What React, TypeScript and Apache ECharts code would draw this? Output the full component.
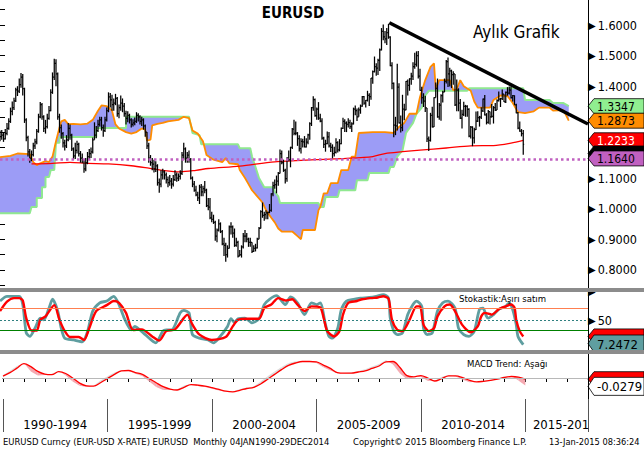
import React, { useEffect, useRef } from 'react';
import * as echarts from 'echarts';

const FONT = '"DejaVu Sans Condensed", "DejaVu Sans", sans-serif';

// Monthly EURUSD bars, Jan 1990 .. Dec 2014 (index 0..299)
const priceClose = [
  1.235, 1.240, 1.228, 1.246, 1.262, 1.285, 1.318, 1.330, 1.352, 1.388, 1.384, 1.405,
  1.430, 1.392, 1.290, 1.232, 1.185, 1.165, 1.176, 1.205, 1.218, 1.252, 1.300, 1.340,
  1.300, 1.262, 1.268, 1.295, 1.320, 1.380, 1.430, 1.475, 1.440, 1.300, 1.265, 1.245,
  1.215, 1.205, 1.225, 1.262, 1.240, 1.195, 1.172, 1.190, 1.210, 1.180, 1.165, 1.160,
  1.130, 1.150, 1.170, 1.180, 1.185, 1.225, 1.240, 1.255, 1.275, 1.290, 1.265, 1.255,
  1.290, 1.320, 1.365, 1.355, 1.340, 1.345, 1.360, 1.310, 1.330, 1.345, 1.335, 1.310,
  1.295, 1.305, 1.290, 1.275, 1.280, 1.285, 1.305, 1.300, 1.285, 1.290, 1.270, 1.250,
  1.205, 1.165, 1.150, 1.145, 1.130, 1.140, 1.085, 1.080, 1.110, 1.120, 1.110, 1.095,
  1.085, 1.090, 1.080, 1.095, 1.110, 1.100, 1.105, 1.115, 1.175, 1.195, 1.165, 1.175,
  1.160, 1.100, 1.080, 1.060, 1.045, 1.035, 1.070, 1.055, 1.065, 1.060, 1.010, 1.005,
  0.970, 0.965, 0.955, 0.910, 0.930, 0.950, 0.925, 0.885, 0.880, 0.850, 0.870, 0.940,
  0.940, 0.920, 0.880, 0.890, 0.845, 0.850, 0.875, 0.910, 0.910, 0.900, 0.890, 0.890,
  0.860, 0.870, 0.872, 0.900, 0.935, 0.990, 0.978, 0.980, 0.986, 0.988, 0.994, 1.048,
  1.075, 1.078, 1.090, 1.115, 1.180, 1.150, 1.125, 1.098, 1.165, 1.160, 1.200, 1.260,
  1.246, 1.247, 1.229, 1.196, 1.220, 1.218, 1.202, 1.217, 1.241, 1.278, 1.330, 1.356,
  1.304, 1.325, 1.296, 1.286, 1.230, 1.210, 1.212, 1.234, 1.205, 1.200, 1.180, 1.184,
  1.216, 1.192, 1.212, 1.262, 1.285, 1.279, 1.275, 1.281, 1.268, 1.277, 1.325, 1.320,
  1.300, 1.323, 1.335, 1.366, 1.345, 1.354, 1.370, 1.366, 1.426, 1.448, 1.464, 1.459,
  1.484, 1.519, 1.579, 1.561, 1.555, 1.575, 1.560, 1.467, 1.409, 1.273, 1.270, 1.397,
  1.280, 1.265, 1.325, 1.323, 1.416, 1.403, 1.424, 1.433, 1.464, 1.471, 1.500, 1.433,
  1.386, 1.363, 1.351, 1.329, 1.228, 1.223, 1.305, 1.267, 1.363, 1.393, 1.300, 1.338,
  1.369, 1.381, 1.416, 1.480, 1.440, 1.450, 1.438, 1.440, 1.339, 1.387, 1.345, 1.296,
  1.308, 1.334, 1.334, 1.324, 1.237, 1.266, 1.231, 1.258, 1.286, 1.297, 1.299, 1.319,
  1.358, 1.306, 1.282, 1.317, 1.300, 1.301, 1.330, 1.322, 1.353, 1.358, 1.359, 1.374,
  1.349, 1.380, 1.377, 1.387, 1.363, 1.369, 1.339, 1.313, 1.263, 1.253, 1.245, 1.210,
];
const priceHigh = [
  1.255, 1.257, 1.250, 1.260, 1.280, 1.295, 1.330, 1.350, 1.362, 1.395, 1.400, 1.425,
  1.443, 1.440, 1.395, 1.295, 1.238, 1.195, 1.190, 1.215, 1.228, 1.260, 1.310, 1.348,
  1.345, 1.305, 1.290, 1.310, 1.335, 1.390, 1.445, 1.490, 1.488, 1.445, 1.310, 1.275,
  1.250, 1.225, 1.240, 1.280, 1.275, 1.245, 1.200, 1.215, 1.222, 1.215, 1.188, 1.180,
  1.160, 1.165, 1.185, 1.195, 1.200, 1.232, 1.282, 1.270, 1.290, 1.300, 1.300, 1.275,
  1.300, 1.330, 1.380, 1.378, 1.372, 1.360, 1.375, 1.365, 1.340, 1.370, 1.360, 1.345,
  1.320, 1.318, 1.310, 1.295, 1.292, 1.298, 1.315, 1.312, 1.305, 1.300, 1.295, 1.275,
  1.250, 1.215, 1.175, 1.165, 1.160, 1.155, 1.145, 1.098, 1.125, 1.130, 1.125, 1.118,
  1.105, 1.110, 1.100, 1.110, 1.125, 1.118, 1.115, 1.125, 1.185, 1.215, 1.200, 1.185,
  1.190, 1.165, 1.105, 1.090, 1.075, 1.055, 1.078, 1.080, 1.075, 1.090, 1.065, 1.035,
  1.035, 0.990, 0.980, 0.960, 0.935, 0.965, 0.955, 0.930, 0.905, 0.888, 0.880, 0.945,
  0.955, 0.945, 0.935, 0.905, 0.895, 0.865, 0.880, 0.920, 0.930, 0.920, 0.905, 0.905,
  0.890, 0.880, 0.885, 0.905, 0.940, 0.995, 1.020, 0.990, 0.995, 0.990, 1.015, 1.050,
  1.088, 1.095, 1.108, 1.120, 1.193, 1.190, 1.160, 1.130, 1.168, 1.190, 1.202, 1.263,
  1.290, 1.285, 1.250, 1.240, 1.230, 1.228, 1.237, 1.230, 1.245, 1.282, 1.332, 1.367,
  1.360, 1.330, 1.348, 1.310, 1.295, 1.235, 1.225, 1.252, 1.250, 1.215, 1.210, 1.202,
  1.230, 1.220, 1.227, 1.265, 1.297, 1.292, 1.285, 1.295, 1.290, 1.282, 1.330, 1.337,
  1.327, 1.330, 1.340, 1.368, 1.368, 1.355, 1.385, 1.377, 1.427, 1.451, 1.497, 1.475,
  1.490, 1.523, 1.590, 1.602, 1.580, 1.590, 1.604, 1.563, 1.478, 1.412, 1.300, 1.473,
  1.410, 1.304, 1.372, 1.343, 1.417, 1.422, 1.426, 1.444, 1.478, 1.509, 1.514, 1.515,
  1.457, 1.398, 1.377, 1.369, 1.329, 1.236, 1.313, 1.333, 1.364, 1.412, 1.425, 1.345,
  1.374, 1.385, 1.425, 1.486, 1.494, 1.460, 1.454, 1.449, 1.438, 1.422, 1.393, 1.358,
  1.323, 1.349, 1.339, 1.338, 1.328, 1.270, 1.269, 1.264, 1.317, 1.318, 1.303, 1.331,
  1.360, 1.371, 1.312, 1.322, 1.311, 1.342, 1.335, 1.345, 1.357, 1.383, 1.362, 1.389,
  1.374, 1.383, 1.397, 1.399, 1.399, 1.371, 1.370, 1.343, 1.316, 1.285, 1.260, 1.257,
];
const priceLow = [
  1.220, 1.225, 1.218, 1.226, 1.240, 1.258, 1.280, 1.305, 1.322, 1.348, 1.368, 1.378,
  1.395, 1.370, 1.280, 1.220, 1.170, 1.150, 1.155, 1.170, 1.195, 1.210, 1.248, 1.295,
  1.290, 1.250, 1.245, 1.262, 1.290, 1.318, 1.375, 1.420, 1.400, 1.290, 1.248, 1.228,
  1.200, 1.190, 1.198, 1.220, 1.225, 1.188, 1.160, 1.162, 1.180, 1.170, 1.150, 1.148,
  1.117, 1.122, 1.145, 1.160, 1.165, 1.180, 1.225, 1.230, 1.250, 1.268, 1.255, 1.235,
  1.250, 1.285, 1.315, 1.330, 1.320, 1.320, 1.338, 1.300, 1.295, 1.320, 1.315, 1.300,
  1.275, 1.282, 1.278, 1.265, 1.268, 1.272, 1.280, 1.285, 1.275, 1.270, 1.258, 1.235,
  1.195, 1.150, 1.140, 1.125, 1.118, 1.120, 1.075, 1.052, 1.070, 1.095, 1.095, 1.082,
  1.070, 1.075, 1.065, 1.072, 1.090, 1.088, 1.090, 1.095, 1.110, 1.160, 1.150, 1.150,
  1.150, 1.095, 1.070, 1.055, 1.040, 1.025, 1.015, 1.040, 1.040, 1.050, 1.005, 0.995,
  0.965, 0.955, 0.950, 0.895, 0.890, 0.925, 0.920, 0.880, 0.845, 0.826, 0.840, 0.870,
  0.915, 0.905, 0.875, 0.875, 0.840, 0.845, 0.840, 0.870, 0.890, 0.890, 0.875, 0.875,
  0.855, 0.858, 0.860, 0.870, 0.900, 0.935, 0.970, 0.960, 0.965, 0.965, 0.985, 0.990,
  1.040, 1.065, 1.050, 1.075, 1.115, 1.145, 1.120, 1.082, 1.088, 1.155, 1.135, 1.195,
  1.240, 1.240, 1.205, 1.187, 1.180, 1.200, 1.200, 1.200, 1.210, 1.225, 1.270, 1.320,
  1.300, 1.290, 1.290, 1.282, 1.225, 1.198, 1.186, 1.210, 1.200, 1.185, 1.164, 1.170,
  1.180, 1.183, 1.187, 1.210, 1.260, 1.250, 1.250, 1.265, 1.260, 1.250, 1.275, 1.305,
  1.286, 1.300, 1.310, 1.333, 1.339, 1.330, 1.350, 1.335, 1.356, 1.408, 1.445, 1.434,
  1.437, 1.450, 1.517, 1.550, 1.540, 1.535, 1.555, 1.465, 1.390, 1.233, 1.240, 1.255,
  1.278, 1.249, 1.253, 1.289, 1.321, 1.370, 1.385, 1.405, 1.420, 1.457, 1.464, 1.425,
  1.385, 1.343, 1.332, 1.316, 1.218, 1.188, 1.219, 1.265, 1.269, 1.369, 1.297, 1.290,
  1.287, 1.347, 1.382, 1.409, 1.397, 1.399, 1.394, 1.405, 1.335, 1.318, 1.318, 1.293,
  1.262, 1.303, 1.300, 1.300, 1.233, 1.229, 1.204, 1.213, 1.257, 1.283, 1.268, 1.293,
  1.316, 1.304, 1.275, 1.277, 1.275, 1.298, 1.278, 1.319, 1.322, 1.350, 1.332, 1.355,
  1.348, 1.345, 1.369, 1.373, 1.360, 1.350, 1.339, 1.312, 1.259, 1.251, 1.236, 1.176,
];

// Ichimoku cloud spans [monthIndex, value] (shifted forward, up to early 2017)
const spanA = [
  [0, 1.168], [6, 1.172], [10, 1.18], [17, 1.178], [18, 1.165], [19, 1.152], [21, 1.142], [23, 1.148],
  [26, 1.155], [28, 1.152], [30, 1.17], [32, 1.22], [34, 1.265], [35, 1.285], [37, 1.29], [39, 1.276],
  [42, 1.277], [46, 1.275], [50, 1.278], [53, 1.29], [56, 1.32], [58, 1.337], [61, 1.335], [64, 1.32],
  [66, 1.275], [68, 1.262], [72, 1.25], [75, 1.245], [78, 1.25], [81, 1.262], [83, 1.258], [84, 1.222],
  [86, 1.225], [87, 1.272], [90, 1.277], [93, 1.28], [96, 1.285], [100, 1.288], [102, 1.29], [105, 1.30],
  [108, 1.296], [110, 1.255], [113, 1.245], [116, 1.22], [118, 1.175], [122, 1.16], [127, 1.152],
  [129, 1.165], [131, 1.148], [136, 1.145], [137, 1.126], [140, 1.10], [142, 1.08], [144, 1.06],
  [147, 1.04], [150, 1.02], [152, 0.995], [155, 0.97], [157, 0.955], [159, 0.935], [161, 0.925],
  [167, 0.925], [170, 0.91], [172, 0.90], [173, 0.93], [180, 0.93], [182, 0.995], [183, 1.005],
  [185, 1.05], [187, 1.05], [189, 1.083], [193, 1.083], [195, 1.126], [199, 1.126], [201, 1.17],
  [203, 1.17], [205, 1.247], [213, 1.25], [220, 1.25], [225, 1.247], [228, 1.267], [231, 1.28],
  [234, 1.31], [238, 1.31], [240, 1.365], [243, 1.42], [246, 1.463], [248, 1.475], [249, 1.39],
  [251, 1.42], [257, 1.42], [259, 1.387], [261, 1.39], [263, 1.42], [265, 1.40], [269, 1.385],
  [271, 1.35], [273, 1.33], [280, 1.33], [282, 1.355], [286, 1.37], [290, 1.368], [293, 1.345],
  [296, 1.315], [300, 1.312], [305, 1.318], [308, 1.33], [314, 1.33], [316, 1.32], [322, 1.322],
  [325, 1.2873],
];
const spanB = [
  [0, 0.985], [17, 0.985], [18, 1.005], [21, 1.005], [21, 1.035], [24, 1.035], [24, 1.07], [26, 1.07],
  [26, 1.103], [28, 1.103], [29, 1.126], [31, 1.126], [32, 1.215], [34, 1.215], [34, 1.234], [55, 1.234],
  [55, 1.263], [72, 1.263], [72, 1.30], [108, 1.30], [110, 1.247], [114, 1.24], [115, 1.21], [136, 1.21],
  [137, 1.197], [143, 1.197], [144, 1.17], [146, 1.136], [148, 1.10], [151, 1.07], [156, 1.07],
  [157, 1.055], [159, 1.04], [160, 1.018], [182, 1.018], [183, 1.005], [185, 1.005], [186, 1.038],
  [193, 1.038], [194, 1.06], [203, 1.06], [204, 1.093], [210, 1.093], [211, 1.116], [222, 1.116],
  [223, 1.136], [225, 1.136], [227, 1.17], [230, 1.19], [232, 1.247], [236, 1.28], [238, 1.31],
  [241, 1.33], [243, 1.37], [245, 1.385], [267, 1.385], [268, 1.393], [299, 1.393], [300, 1.355],
  [314, 1.355], [316, 1.345], [322, 1.345], [325, 1.3347],
];
// Long moving average [monthIndex, value]
const maLine = [
  [18, 1.146], [30, 1.148], [40, 1.151], [50, 1.148], [62, 1.146], [75, 1.14], [85, 1.132], [94, 1.124],
  [103, 1.12], [112, 1.125], [119, 1.131], [137, 1.139], [157, 1.153], [180, 1.16], [198, 1.164],
  [213, 1.17], [220, 1.18], [230, 1.186], [240, 1.191], [255, 1.198], [269, 1.205], [282, 1.206],
  [292, 1.214], [299, 1.223],
];
const supportLevel = 1.164;
const trendLine = [[222.5, 1.6075], [336, 1.2765]];

// Stochastic [monthIndex, value]
const stochK = [
  [0, 83], [4, 91], [11, 91], [13, 77], [15, 29], [17, 23], [20, 37], [23, 54], [25, 51], [28, 71], [30, 86],
  [33, 66], [35, 37], [37, 20], [42, 17], [47, 14], [50, 31], [53, 66], [57, 80], [61, 83], [65, 91], [68, 77],
  [71, 54], [75, 34], [77, 40], [80, 34], [83, 26], [89, 12], [93, 32], [95, 34], [98, 34], [103, 63], [105, 67],
  [108, 63], [110, 26], [114, 20], [119, 17], [122, 12], [125, 20], [130, 40], [132, 53], [134, 47], [136, 53],
  [140, 54], [144, 46], [148, 53], [151, 77], [154, 86], [158, 92], [163, 77], [166, 90], [170, 80], [174, 60],
  [178, 80], [181, 77], [183, 80], [186, 43], [188, 23], [190, 20], [193, 37], [195, 68], [198, 83], [202, 86],
  [206, 88], [211, 89], [215, 91], [219, 94], [222, 88], [223, 54], [225, 32], [227, 26], [230, 29], [233, 60],
  [236, 77], [238, 83], [241, 74], [242, 37], [244, 26], [247, 29], [250, 66], [253, 80], [256, 83], [260, 71],
  [262, 37], [265, 26], [268, 23], [271, 32], [274, 69], [276, 71], [278, 57], [279, 54], [282, 60], [285, 69],
  [289, 74], [291, 80], [293, 68], [295, 43], [296, 23], [299, 9],
];
const stochD = [
  [0, 66], [4, 82], [8, 88], [11, 88], [13, 84], [15, 54], [18, 33], [21, 33], [23, 51], [26, 57], [31, 76],
  [34, 51], [37, 32], [40, 22], [45, 22], [48, 17], [51, 37], [55, 66], [61, 76], [65, 83], [68, 80], [72, 63],
  [76, 34], [81, 35], [87, 23], [91, 16], [95, 32], [100, 35], [105, 54], [107, 60], [110, 43], [114, 26],
  [121, 17], [129, 22], [133, 40], [136, 51], [142, 53], [148, 53], [151, 71], [155, 77], [159, 88], [163, 84],
  [167, 86], [170, 77], [174, 66], [178, 74], [183, 72], [185, 54], [187, 32], [191, 23], [194, 32], [196, 60],
  [199, 80], [204, 83], [207, 86], [212, 88], [216, 89], [219, 91], [222, 87], [224, 51], [227, 34], [230, 32],
  [234, 51], [238, 74], [240, 74], [242, 43], [245, 32], [248, 37], [250, 57], [254, 74], [257, 77], [260, 66],
  [264, 43], [269, 30], [273, 40], [275, 57], [277, 63], [281, 60], [285, 69], [289, 74], [292, 77], [294, 72],
  [295, 51], [297, 32], [299, 23],
];
const stochUpper = 70;
const stochMid = 50;
const stochLower = 33;

// MACD, one value every 4 months starting Jan 1990
const macdStep = 4;
const macdSignal = [
  0.006, 0.018, 0.033, 0.048, 0.038, 0.022, 0.013, 0.011, 0.021, 0.015,
  0.000, -0.017, -0.026, -0.027, -0.016, -0.002, 0.012, 0.024, 0.025, 0.018,
  0.012, -0.002, -0.016, -0.029, -0.037, -0.040, -0.031, -0.022, -0.024, -0.027,
  -0.032, -0.038, -0.044, -0.046, -0.041, -0.035, -0.031, -0.020, -0.004, 0.012,
  0.028, 0.042, 0.050, 0.055, 0.055, 0.054, 0.043, 0.032, 0.018, 0.016,
  0.016, 0.020, 0.024, 0.032, 0.040, 0.054, 0.055, 0.035, 0.008, 0.004,
  0.008, 0.000, -0.010, -0.002, 0.007, 0.007, 0.001, -0.008, -0.013, -0.011,
  -0.008, -0.004, 0.002, 0.005, 0.003, -0.004,
];
const macdLine = [
  0.010, 0.024, 0.040, 0.050, 0.022, 0.008, 0.010, 0.014, 0.024, 0.008,
  -0.012, -0.026, -0.030, -0.026, -0.008, 0.006, 0.018, 0.027, 0.024, 0.014,
  0.007, -0.012, -0.030, -0.040, -0.040, -0.038, -0.025, -0.020, -0.027, -0.030,
  -0.036, -0.042, -0.046, -0.045, -0.037, -0.032, -0.028, -0.012, 0.006, 0.022,
  0.037, 0.050, 0.056, 0.057, 0.054, 0.050, 0.036, 0.025, 0.016, 0.017,
  0.018, 0.023, 0.029, 0.038, 0.047, 0.060, 0.045, 0.015, -0.004, 0.006,
  0.004, -0.010, -0.008, 0.004, 0.010, 0.005, -0.006, -0.014, -0.012, -0.009,
  -0.006, 0.000, 0.005, 0.007, -0.008, -0.025,
];

const xGroupLabels = ['1990-1994', '1995-1999', '2000-2004', '2005-2009', '2010-2014', '2015-201'];
// price-axis tick labels that sit behind the value boxes on the right (not shown in the original)
const hiddenPriceTicks = [1.2, 1.3];

const mainLabels = [
  { value: 1.3347, text: '1.3347', fill: '#90ee90', color: '#000' },
  { value: 1.2873, text: '1.2873', fill: '#ff8c00', color: '#000' },
  { value: 1.2233, text: '1.2233', fill: '#ff0000', color: '#fff' },
  { value: 1.18, text: '', fill: '#000000', color: '#fff' },
  { value: 1.164, text: '1.1640', fill: '#c060c0', color: '#000' },
];
const stochLabels = [
  { value: 23, text: '', fill: '#ff0000', color: '#fff' },
  { value: 7.2472, text: '7.2472', fill: '#5f9ea0', color: '#000' },
];
const macdLabels = [
  { value: -0.004, text: '', fill: '#ff0000', color: '#fff' },
  { value: -0.0279, text: '-0.0279', fill: '#ffffff', color: '#000' },
];

const PINK = '#f5a9b1';
const LGRAY = '#dddddd';

export default function App() {
  const ref = useRef<HTMLDivElement>(null);
  useEffect(() => {
    const chart = echarts.init(ref.current as HTMLDivElement, undefined, { renderer: 'svg' });

    const priceData = priceClose.map((c, i) => {
      const o = i === 0 ? c : priceClose[i - 1];
      return [i, o, c, Math.min(priceLow[i], o, c), Math.max(priceHigh[i], o, c)];
    });

    const xBase = { type: 'value', min: 0, max: 336, show: false };
    const axisRich = {
      t: { fontSize: 10, color: '#000', fontFamily: 'DejaVu Sans', padding: [0, 2, 0, 0] },
      v: { fontSize: 12.5, color: '#000', fontFamily: FONT },
    };

    const option: any = {
      animation: false,
      backgroundColor: '#fff',
      textStyle: { fontFamily: FONT },
      grid: [
        { left: 0, right: 56, top: 9.7, height: 275.4 },
        { left: 0, right: 56, top: 291, height: 59 },
        { left: 0, right: 56, top: 354, height: 45 },
      ],
      xAxis: [
        { ...xBase, gridIndex: 0 },
        { ...xBase, gridIndex: 1 },
        {
          type: 'value', gridIndex: 2, min: 0, max: 336, interval: 12, position: 'bottom',
          axisLine: { show: true, lineStyle: { color: '#000', width: 1 } },
          axisTick: { show: true, length: 4, lineStyle: { color: '#000' } },
          axisLabel: { show: false }, splitLine: { show: false },
        },
        {
          type: 'value', gridIndex: 2, min: 0, max: 336, interval: 60, position: 'bottom',
          axisLine: { show: false },
          axisTick: { show: true, length: 33, lineStyle: { color: '#555', width: 1 } },
          axisLabel: { show: false }, splitLine: { show: false },
        },
        {
          type: 'value', gridIndex: 2, min: 0, max: 336, interval: 30, position: 'bottom',
          axisLine: { show: false }, axisTick: { show: false }, splitLine: { show: false },
          axisLabel: {
            show: true, margin: 19, fontSize: 13, color: '#000', fontFamily: FONT,
            formatter: (v: number) => {
              const k = Math.round(v / 30);
              if (k % 2 !== 1) return '';
              const idx = (k - 1) / 2;
              if (idx === xGroupLabels.length - 1) return '{s|' + xGroupLabels[idx] + '}';
              return xGroupLabels[idx] || '';
            },
            rich: { s: { fontSize: 13, color: '#000', fontFamily: FONT, padding: [0, 33, 0, 0] } },
          },
        },
      ],
      yAxis: [
        {
          type: 'value', gridIndex: 0, position: 'right', min: 0.75, max: 1.65, interval: 0.05,
          axisLine: { show: false },
          axisTick: { show: true, length: 5, lineStyle: { color: '#000' } },
          splitLine: { show: false },
          axisLabel: {
            show: true, margin: 0,
            formatter: (v: number) => {
              if (Math.round(v * 20) % 2 !== 0) return '';
              if (hiddenPriceTicks.some((h) => Math.abs(h - v) < 1e-6)) return '';
              return '{t|▶}{v|' + v.toFixed(4) + '}';
            },
            rich: axisRich,
          },
        },
        {
          type: 'value', gridIndex: 1, position: 'right', min: 0, max: 100, interval: 50,
          axisLine: { show: false }, axisTick: { show: false }, splitLine: { show: false },
          axisLabel: {
            show: true, margin: 0,
            formatter: (v: number) => (v === 50 ? '{t|▶}{v|50}' : v === 100 ? '{t|▶}' : ''),
            rich: axisRich,
          },
        },
        {
          type: 'value', gridIndex: 2, position: 'right', min: -0.07, max: 0.08,
          axisLine: { show: false }, axisTick: { show: false }, axisLabel: { show: false }, splitLine: { show: false },
        },
      ],
      series: [
        {
          type: 'custom', xAxisIndex: 0, yAxisIndex: 0, z: 1, silent: true,
          data: [[0, 1]],
          renderItem: (_p: any, api: any) => {
            const pts = spanA.map((p) => api.coord(p)).concat(spanB.slice().reverse().map((p) => api.coord(p)));
            return { type: 'polygon', shape: { points: pts }, style: { fill: '#9c9cf6' } };
          },
        },
        {
          type: 'line', xAxisIndex: 0, yAxisIndex: 0, z: 2, data: spanB, showSymbol: false, silent: true,
          lineStyle: { color: '#90e890', width: 2 },
        },
        {
          type: 'line', xAxisIndex: 0, yAxisIndex: 0, z: 2, data: spanA, showSymbol: false, silent: true,
          lineStyle: { color: '#ff8c00', width: 1.8 },
        },
        {
          type: 'line', xAxisIndex: 0, yAxisIndex: 0, z: 3, data: maLine, showSymbol: false, silent: true,
          smooth: 0.3, lineStyle: { color: '#ff0000', width: 1.3 },
          markLine: {
            silent: true, symbol: 'none', label: { show: false },
            lineStyle: { color: '#c060c0', width: 2.5, type: [2.5, 3] },
            data: [{ yAxis: supportLevel }],
          },
        },
        {
          type: 'custom', xAxisIndex: 0, yAxisIndex: 0, z: 4, silent: true,
          data: priceData, encode: { x: 0, y: [1, 2, 3, 4] },
          renderItem: (_p: any, api: any) => {
            const x = api.value(0);
            const pO = api.coord([x, api.value(1)]);
            const pC = api.coord([x, api.value(2)]);
            const pL = api.coord([x, api.value(3)]);
            const pH = api.coord([x, api.value(4)]);
            const st = { stroke: '#000', lineWidth: 1.25 };
            return {
              type: 'group',
              children: [
                { type: 'line', shape: { x1: pL[0], y1: pL[1], x2: pH[0], y2: pH[1] }, style: st },
                { type: 'line', shape: { x1: pO[0] - 0.9, y1: pO[1], x2: pO[0], y2: pO[1] }, style: st },
                { type: 'line', shape: { x1: pC[0], y1: pC[1], x2: pC[0] + 0.9, y2: pC[1] }, style: st },
              ],
            };
          },
        },
        {
          type: 'line', xAxisIndex: 0, yAxisIndex: 0, z: 5, data: trendLine, showSymbol: false, silent: true,
          lineStyle: { color: '#000', width: 3.5 },
        },
        // stochastic
        {
          type: 'line', xAxisIndex: 1, yAxisIndex: 1, z: 3, data: stochK, showSymbol: false, silent: true,
          smooth: 0.25, lineStyle: { color: '#5f9ea0', width: 2.8 },
          markLine: {
            silent: true, symbol: 'none', label: { show: false },
            data: [
              { yAxis: stochUpper, lineStyle: { color: '#ff7f50', width: 1, type: 'solid' } },
              { yAxis: stochMid, lineStyle: { color: '#2f8080', width: 1, type: [2, 2] } },
              { yAxis: stochLower, lineStyle: { color: '#008000', width: 1.2, type: 'solid' } },
            ],
          },
        },
        {
          type: 'line', xAxisIndex: 1, yAxisIndex: 1, z: 4, data: stochD, showSymbol: false, silent: true,
          smooth: 0.25, lineStyle: { color: '#ff0000', width: 2.4 },
        },
        // MACD
        {
          type: 'custom', xAxisIndex: 2, yAxisIndex: 2, z: 2, silent: true,
          data: macdSignal.slice(0, -1).map((v, i) => [i * macdStep, v]),
          encode: { x: 0, y: 1 },
          renderItem: (p: any, api: any) => {
            const i = p.dataIndex;
            const m0 = i * macdStep, m1 = (i + 1) * macdStep;
            const s0 = macdSignal[i], s1 = macdSignal[i + 1];
            const l0 = macdLine[i], l1 = macdLine[i + 1];
            const d0 = l0 - s0, d1 = l1 - s1;
            const col = (d: number) => (d < 0 ? PINK : LGRAY);
            const P = (m: number, v: number) => api.coord([m, v]);
            if (d0 * d1 < 0) {
              const t = d0 / (d0 - d1);
              const mc = m0 + t * (m1 - m0), vc = s0 + t * (s1 - s0);
              return {
                type: 'group',
                children: [
                  { type: 'polygon', shape: { points: [P(m0, s0), P(mc, vc), P(m0, l0)] }, style: { fill: col(d0) } },
                  { type: 'polygon', shape: { points: [P(mc, vc), P(m1, s1), P(m1, l1)] }, style: { fill: col(d1) } },
                ],
              };
            }
            return {
              type: 'polygon',
              shape: { points: [P(m0, s0), P(m1, s1), P(m1, l1), P(m0, l0)] },
              style: { fill: col(d0 + d1) },
            };
          },
        },
        {
          type: 'line', xAxisIndex: 2, yAxisIndex: 2, z: 3, showSymbol: false, silent: true, smooth: 0.35,
          data: macdSignal.map((v, i) => [i * macdStep, v]),
          lineStyle: { color: '#ff0000', width: 1.3 },
          markLine: {
            silent: true, symbol: 'none', label: { show: false },
            lineStyle: { color: '#b8b8b8', width: 1.2, type: 'solid' },
            data: [{ yAxis: 0 }],
          },
        },
      ],
    };
    chart.setOption(option);

    const yPix = (axis: number, v: number) => chart.convertToPixel({ yAxisIndex: axis } as any, v) as number;
    const box = (cy: number, h: number, fill: string, text: string, color: string, fs: number) => {
      const els: any[] = [
        {
          type: 'polygon', z: 40, silent: true,
          shape: { points: [[588, cy], [594, cy - h / 2], [644, cy - h / 2], [644, cy + h / 2], [594, cy + h / 2]] },
          style: { fill, stroke: '#000', lineWidth: 0.8 },
        },
      ];
      if (text) {
        els.push({
          type: 'text', z: 41, silent: true, x: 597, y: cy + 0.5,
          style: { text, fill: color, fontSize: fs, fontFamily: FONT, align: 'left', verticalAlign: 'middle' },
        });
      }
      return els;
    };

    const graphics: any[] = [];
    mainLabels.forEach((l) => graphics.push(...box(yPix(0, l.value), 15, l.fill, l.text, l.color, 12)));
    stochLabels.forEach((l) => {
      const cy = Math.min(yPix(1, l.value), 343.5);
      graphics.push(...box(cy, l.text ? 17 : 15, l.fill, l.text, l.color, 13));
    });
    macdLabels.forEach((l) => {
      const cy = yPix(2, l.value);
      graphics.push(...box(cy, l.text ? 18 : 15, l.fill, l.text, l.color, 13));
    });
    graphics.push(
      { type: 'line', z: 45, silent: true, shape: { x1: 588.5, y1: 0, x2: 588.5, y2: 399 }, style: { stroke: '#000', lineWidth: 1 } },
      { type: 'rect', z: 50, silent: true, shape: { x: 0, y: 288, width: 644, height: 4 }, style: { fill: '#8c8c8c' } },
      { type: 'rect', z: 50, silent: true, shape: { x: 0, y: 350, width: 644, height: 4 }, style: { fill: '#8c8c8c' } },
      {
        type: 'text', z: 60, silent: true, x: 293, y: 13,
        style: { text: 'EURUSD', fill: '#000', fontSize: 15, fontWeight: 'bold', fontFamily: FONT, align: 'center', verticalAlign: 'middle' },
      },
      {
        type: 'text', z: 60, silent: true, x: 473, y: 32,
        style: { text: 'Aylık Grafik', fill: '#000', fontSize: 17, fontFamily: FONT, align: 'left', verticalAlign: 'middle' },
      },
      {
        type: 'text', z: 60, silent: true, x: 459, y: 298,
        style: { text: 'Stokastik:Aşırı satım', fill: '#000', fontSize: 9.5, fontFamily: FONT, align: 'left', verticalAlign: 'middle' },
      },
      {
        type: 'text', z: 60, silent: true, x: 467, y: 363,
        style: { text: 'MACD Trend: Aşağı', fill: '#000', fontSize: 9.5, fontFamily: FONT, align: 'left', verticalAlign: 'middle' },
      },
      {
        type: 'text', z: 60, silent: true, x: 3, y: 441,
        style: { text: 'EURUSD Curncy (EUR-USD X-RATE) EURUSD  Monthly 04JAN1990-29DEC2014', fill: '#000', fontSize: 9.4, fontFamily: FONT, align: 'left', verticalAlign: 'middle' },
      },
      {
        type: 'text', z: 60, silent: true, x: 353, y: 441,
        style: { text: 'Copyright© 2015 Bloomberg Finance L.P.', fill: '#000', fontSize: 9.4, fontFamily: FONT, align: 'left', verticalAlign: 'middle' },
      },
      {
        type: 'text', z: 60, silent: true, x: 549, y: 441,
        style: { text: '13-Jan-2015 08:36:24', fill: '#000', fontSize: 9.2, fontFamily: FONT, align: 'left', verticalAlign: 'middle' },
      },
    );
    chart.setOption({ graphic: graphics });

    return () => chart.dispose();
  }, []);
  return (
    <div
      ref={ref}
      style={{ position: 'fixed', left: 0, top: 0, width: 644, height: 449, background: '#fff' }}
    />
  );
}
